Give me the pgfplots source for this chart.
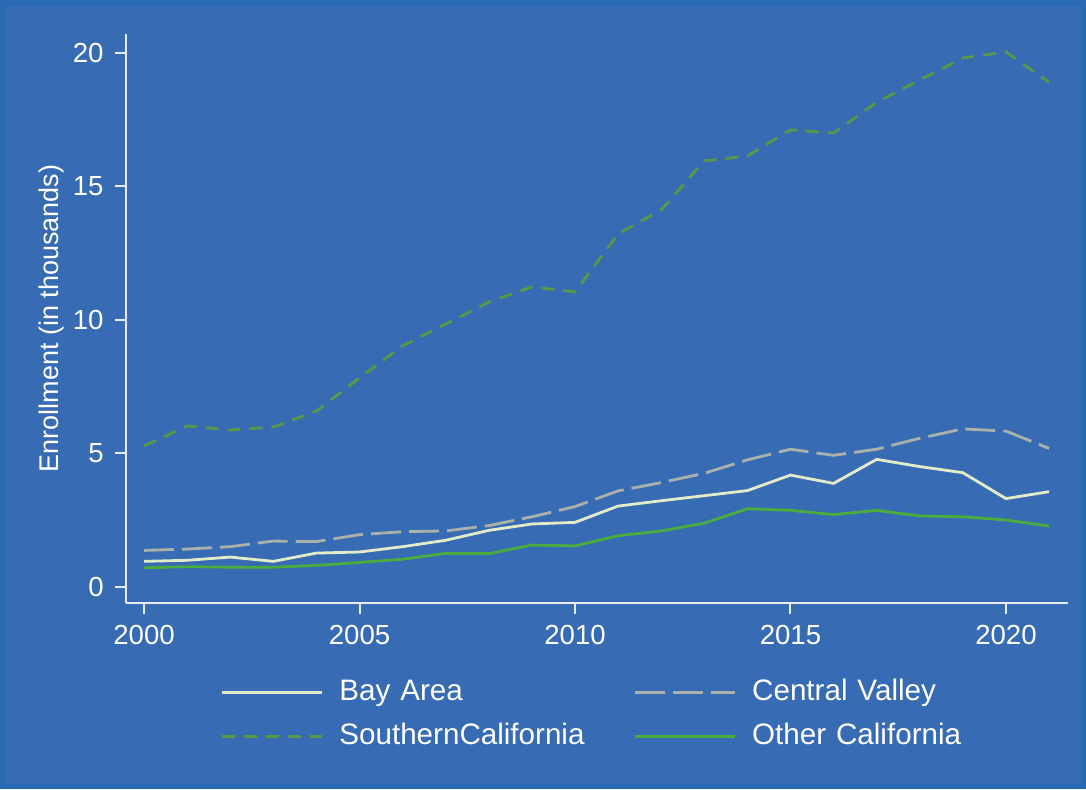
\documentclass[border=0pt]{standalone}
\usepackage{pgfplots}
\pgfplotsset{compat=1.18}
\usepackage{pgfplotstable}
\usepackage{fontspec}
\setmainfont{Liberation Sans}
\definecolor{bgout}{RGB}{42,105,180}
\definecolor{bgin}{RGB}{55,107,180}
\definecolor{axcol}{RGB}{232,236,242}
\definecolor{cBA}{RGB}{226,236,200}
\definecolor{cCV}{RGB}{170,176,170}
\definecolor{cSC}{RGB}{88,152,72}
\definecolor{cOC}{RGB}{74,172,60}
\pgfplotstableread{
year BA CV SC OC
2000 0.96 1.37 5.28 0.72
2001 1.00 1.42 6.03 0.76
2002 1.12 1.51 5.88 0.74
2003 0.96 1.72 5.99 0.74
2004 1.27 1.70 6.59 0.81
2005 1.31 1.96 7.83 0.92
2006 1.51 2.07 9.03 1.04
2007 1.75 2.10 9.85 1.26
2008 2.12 2.30 10.67 1.25
2009 2.36 2.63 11.24 1.57
2010 2.42 3.01 11.05 1.54
2011 3.03 3.60 13.22 1.92
2012 3.23 3.91 14.12 2.10
2013 3.42 4.26 15.96 2.39
2014 3.61 4.76 16.14 2.93
2015 4.19 5.16 17.12 2.87
2016 3.88 4.93 17.00 2.71
2017 4.78 5.16 18.15 2.87
2018 4.51 5.57 18.99 2.66
2019 4.28 5.92 19.81 2.63
2020 3.31 5.84 20.04 2.51
2021 3.57 5.19 18.90 2.28
}\datatable
\begin{document}
\fontsize{13.5pt}{16pt}\selectfont
\begin{tikzpicture}
\path[use as bounding box] (-63pt,-93pt) rectangle (480pt,301.5pt);
\fill[bgout] (-63pt,-93pt) rectangle (480pt,301.5pt);
\fill[bgin] (-60.25pt,-90.25pt) rectangle (477.25pt,298.75pt);
\begin{axis}[
  at={(0,0)}, anchor=south west,
  scale only axis, width=471pt, height=284.5pt,
  xmin=1999.58, xmax=2021.44, ymin=-0.6, ymax=20.71,
  axis lines*=left,
  axis line style={axcol, line width=1pt, -},
  xtick={2000,2005,...,2020}, ytick={0,5,...,20},
  tick align=outside, major tick length=5.5pt,
  tick style={axcol, line width=1pt},
  minor tick num=0,
  ticklabel style={white, font=\fontsize{13.8pt}{16pt}\selectfont},
  /pgf/number format/assume math mode=true,
  /pgf/number format/1000 sep={},
  xticklabel style={yshift=-1pt},
  yticklabel style={xshift=-1pt},
  ylabel={Enrollment (in thousands)},
  ylabel style={white, font=\fontsize{13.5pt}{16pt}\selectfont, at={(axis description cs:-0.0786,0.5)}, anchor=center},
  legend columns=2,
  legend style={draw=none, fill=none, inner sep=0pt,
    at={(axis description cs:0.1,-0.133)}, anchor=north west,
    font=\fontsize{14.8pt}{17pt}\selectfont, text=white,
    nodes={inner sep=0pt, text width=147pt, align=left, text height=10.5pt, text depth=3pt},
    /tikz/every odd column/.append style={column sep=8pt},
    row sep=8.5pt},
  legend image code/.code={\draw[#1] (0pt,0pt) -- (50pt,0pt);},
]
\addplot[cBA, line width=1.4pt] table[x=year, y=BA] {\datatable};
\addlegendentry{Bay Area}
\addplot[cCV, line width=1.4pt, dash pattern=on 15pt off 4pt] table[x=year, y=CV] {\datatable};
\addlegendentry{Central Valley}
\addplot[cSC, line width=1.4pt, dash pattern=on 6.5pt off 4.5pt] table[x=year, y=SC] {\datatable};
\addlegendentry{SouthernCalifornia}
\addplot[cOC, line width=1.4pt] table[x=year, y=OC] {\datatable};
\addlegendentry{Other California}
\end{axis}
\end{tikzpicture}
\end{document}
